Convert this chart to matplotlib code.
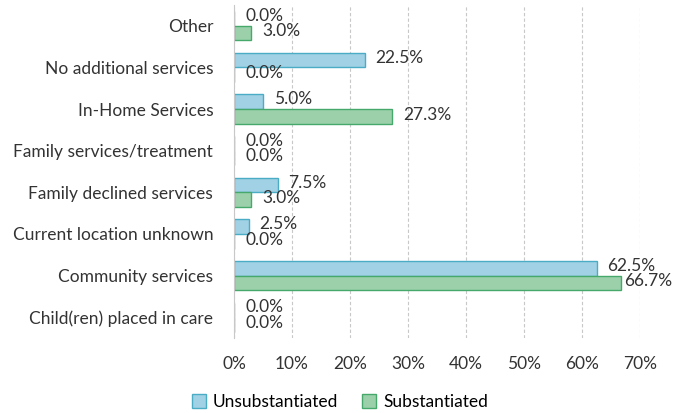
import matplotlib
matplotlib.use("Agg")
import matplotlib.pyplot as plt
import numpy as np

categories = ["Child(ren) placed in care", "Community services", "Current location unknown",
              "Family declined services", "Family services/treatment", "In-Home Services",
              "No additional services", "Other"]
unsubstantiated = [0.0, 62.5, 2.5, 7.5, 0.0, 5.0, 22.5, 0.0]
substantiated = [0.0, 66.7, 0.0, 3.0, 0.0, 27.3, 0.0, 3.0]
xticks = [0, 10, 20, 30, 40, 50, 60, 70]

plt.rcParams['font.family'] = ['Lato', 'DejaVu Sans']
FS = 12.5
fig = plt.figure(figsize=(6.73, 4.13), dpi=100)
ax = fig.add_axes([234/673, 1-338/413, (640-234)/673, (338-5)/413])

y = np.arange(len(categories))
h = 0.35
blue_face, blue_edge = "#a0d1e4", "#4bacc6"
green_face, green_edge = "#9bd0aa", "#46a96b"
ax.barh(y + h/2, unsubstantiated, height=h, color=blue_face, edgecolor=blue_edge, linewidth=1.0,
        label="Unsubstantiated")
ax.barh(y - h/2, substantiated, height=h, color=green_face, edgecolor=green_edge, linewidth=1.0,
        label="Substantiated")

def off(v):
    return 2 if v > 65 else 8

for yi, v in zip(y, unsubstantiated):
    ax.annotate(f"{v:.1f}%", (v, yi + h/2 + 0.06), xytext=(off(v), 0), textcoords="offset points",
                ha="left", va="center", fontsize=FS, color="#333333")
for yi, v in zip(y, substantiated):
    ax.annotate(f"{v:.1f}%", (v, yi - h/2 + 0.04), xytext=(off(v), 0), textcoords="offset points",
                ha="left", va="center", fontsize=FS, color="#333333")

ax.set_xlim(0, 70)
ax.set_ylim(-0.5, len(categories) - 0.5)
ax.set_yticks(y)
ax.set_yticklabels(categories, fontsize=FS, color="#333333")
ax.set_xticks(xticks)
ax.set_xticklabels([f"{t}%" for t in xticks], fontsize=FS, color="#333333")
ax.tick_params(axis='both', length=0)
ax.tick_params(axis='x', pad=13)
ax.tick_params(axis='y', pad=15)
ax.xaxis.grid(True, color="#c8c8c8", linestyle=(0, (3, 2)), linewidth=0.8)
ax.set_axisbelow(True)
for s in ["top", "right", "bottom"]:
    ax.spines[s].set_visible(False)
ax.spines["left"].set_color("#c8c8c8")

fig.legend(loc="center", bbox_to_anchor=(340/673, 1-402/413), ncol=2, frameon=False,
           fontsize=FS, handlelength=0.8, handleheight=0.8, handletextpad=0.4, columnspacing=1.4)
fig.savefig("out.png", dpi=100)
